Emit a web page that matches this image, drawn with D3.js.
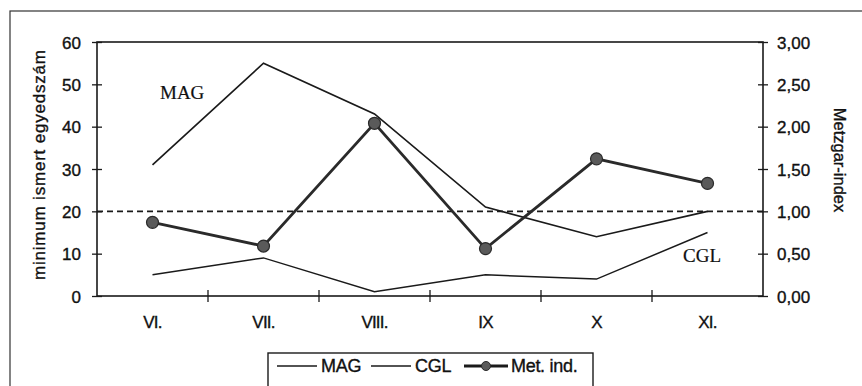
<!DOCTYPE html>
<html>
<head>
<meta charset="utf-8">
<script src="https://cdn.jsdelivr.net/npm/d3@7"></script>
<style>
  body { margin: 0; background: #fff; }
  svg text { font-family: "Liberation Sans", Arial, sans-serif; fill: #111; stroke: #111; stroke-width: 0.35px; }
  svg text.serif { font-family: "Liberation Serif", "Times New Roman", serif; stroke-width: 0.2px; }
</style>
</head>
<body>
<div id="chart"></div>
<script>
const months = ['VI.', 'VII.', 'VIII.', 'IX', 'X', 'XI.'];
const magValues = [31, 55, 43, 21, 14, 20];
const cglValues = [5, 9, 1, 5, 4, 15];
const metIndex = [0.87, 0.59, 2.04, 0.56, 1.62, 1.33];
const leftTicks = [0, 10, 20, 30, 40, 50, 60];
const rightTicks = [0, 0.5, 1, 1.5, 2, 2.5, 3];

const width = 862, height = 386;
const plot = { left: 97, right: 763, top: 42, bottom: 296 };
const ink = '#1a1a1a';

const svg = d3.select('#chart').append('svg')
    .attr('width', width)
    .attr('height', height);

// outer frame (cut off at right and bottom)
svg.append('rect')
    .attr('x', 10).attr('y', 11)
    .attr('width', 900).attr('height', 420)
    .attr('fill', 'none').attr('stroke', '#333').attr('stroke-width', 1.2);

const x = d3.scaleBand().domain(months).range([plot.left, plot.right]);
const yLeft = d3.scaleLinear().domain([0, 60]).range([plot.bottom, plot.top]);
const yRight = d3.scaleLinear().domain([0, 3]).range([plot.bottom, plot.top]);
const cx = d => x(d) + x.bandwidth() / 2;

// plot border
svg.append('rect')
    .attr('x', plot.left).attr('y', plot.top)
    .attr('width', plot.right - plot.left).attr('height', plot.bottom - plot.top)
    .attr('fill', 'none').attr('stroke', ink).attr('stroke-width', 1.6);

// left axis
const leftAxis = svg.append('g')
    .attr('transform', `translate(${plot.left},0)`)
    .call(d3.axisLeft(yLeft).tickValues(leftTicks));
leftAxis.select('.domain').remove();
leftAxis.selectAll('line').attr('x2', 5).attr('x1', -5).attr('stroke', ink).attr('stroke-width', 1.3);
leftAxis.selectAll('text').attr('font-size', 17).attr('x', -16).attr('dy', '0.36em');

// right axis
const rightAxis = svg.append('g')
    .attr('transform', `translate(${plot.right},0)`)
    .call(d3.axisRight(yRight).tickValues(rightTicks)
        .tickFormat(d => d3.format('.2f')(d).replace('.', ',')));
rightAxis.select('.domain').remove();
rightAxis.selectAll('line').attr('x1', -5).attr('x2', 5).attr('stroke', ink).attr('stroke-width', 1.3);
rightAxis.selectAll('text').attr('font-size', 17).attr('x', 14).attr('dy', '0.36em');

// bottom axis: ticks at band boundaries, labels centered
const bottom = svg.append('g');
bottom.selectAll('line.tick')
    .data(months.slice(1))
    .join('line')
    .attr('x1', d => x(d)).attr('x2', d => x(d))
    .attr('y1', plot.bottom - 6).attr('y2', plot.bottom + 6)
    .attr('stroke', ink).attr('stroke-width', 1.3);
bottom.selectAll('text')
    .data(months)
    .join('text')
    .attr('x', d => cx(d))
    .attr('y', 328)
    .attr('text-anchor', 'middle')
    .attr('font-size', 17)
    .attr('letter-spacing', '-0.8px')
    .text(d => d);

// axis titles
svg.append('text')
    .attr('transform', 'translate(45,165) rotate(-90)')
    .attr('text-anchor', 'middle')
    .attr('font-size', 17)
    .attr('textLength', 230)
    .text('minimum ismert egyedszám');
svg.append('text')
    .attr('transform', 'translate(834,160) rotate(90)')
    .attr('text-anchor', 'middle')
    .attr('font-size', 16.5)
    .text('Metzgar-index');

// dashed reference line at index 1
svg.append('line')
    .attr('x1', plot.left).attr('x2', plot.right)
    .attr('y1', yRight(1)).attr('y2', yRight(1))
    .attr('stroke', ink).attr('stroke-width', 1.7)
    .attr('stroke-dasharray', '6,4');

// series lines
const lineLeft = d3.line().x((d, i) => cx(months[i])).y(d => yLeft(d));
const lineRight = d3.line().x((d, i) => cx(months[i])).y(d => yRight(d));

svg.append('path').datum(magValues)
    .attr('d', lineLeft).attr('fill', 'none')
    .attr('stroke', ink).attr('stroke-width', 1.7);
svg.append('path').datum(cglValues)
    .attr('d', lineLeft).attr('fill', 'none')
    .attr('stroke', ink).attr('stroke-width', 1.5);
svg.append('path').datum(metIndex)
    .attr('d', lineRight).attr('fill', 'none')
    .attr('stroke', '#2a2a2a').attr('stroke-width', 2.8);
svg.selectAll('circle.met')
    .data(metIndex)
    .join('circle')
    .attr('class', 'met')
    .attr('cx', (d, i) => cx(months[i]))
    .attr('cy', d => yRight(d))
    .attr('r', 6)
    .attr('fill', '#5a5a5a')
    .attr('stroke', '#2a2a2a').attr('stroke-width', 1.2);

// in-plot labels
svg.append('text')
    .attr('class', 'serif')
    .attr('x', 160).attr('y', 99)
    .attr('font-size', 19)
    .text('MAG');
svg.append('text')
    .attr('class', 'serif')
    .attr('x', 683).attr('y', 262)
    .attr('font-size', 19)
    .text('CGL');

// legend
const legend = svg.append('g');
legend.append('rect')
    .attr('x', 268).attr('y', 353)
    .attr('width', 325).attr('height', 50)
    .attr('fill', '#fff').attr('stroke', ink).attr('stroke-width', 1.4);
const ly = 366;
const legendItems = [
    { name: 'MAG', x0: 277, x1: 317, tx: 321, w: 1.7, marker: false },
    { name: 'CGL', x0: 371, x1: 411, tx: 415, w: 1.5, marker: false },
    { name: 'Met. ind.', x0: 464, x1: 508, tx: 511, w: 2.8, marker: true }
];
legendItems.forEach(it => {
    legend.append('line')
        .attr('x1', it.x0).attr('x2', it.x1)
        .attr('y1', ly).attr('y2', ly)
        .attr('stroke', ink).attr('stroke-width', it.w);
    if (it.marker) {
        legend.append('circle')
            .attr('cx', (it.x0 + it.x1) / 2).attr('cy', ly)
            .attr('r', 4.5)
            .attr('fill', '#5a5a5a').attr('stroke', '#2a2a2a');
    }
    legend.append('text')
        .attr('x', it.tx).attr('y', ly + 6)
        .attr('font-size', 18)
        .attr('letter-spacing', '-0.3px')
        .text(it.name);
});
</script>
</body>
</html>
